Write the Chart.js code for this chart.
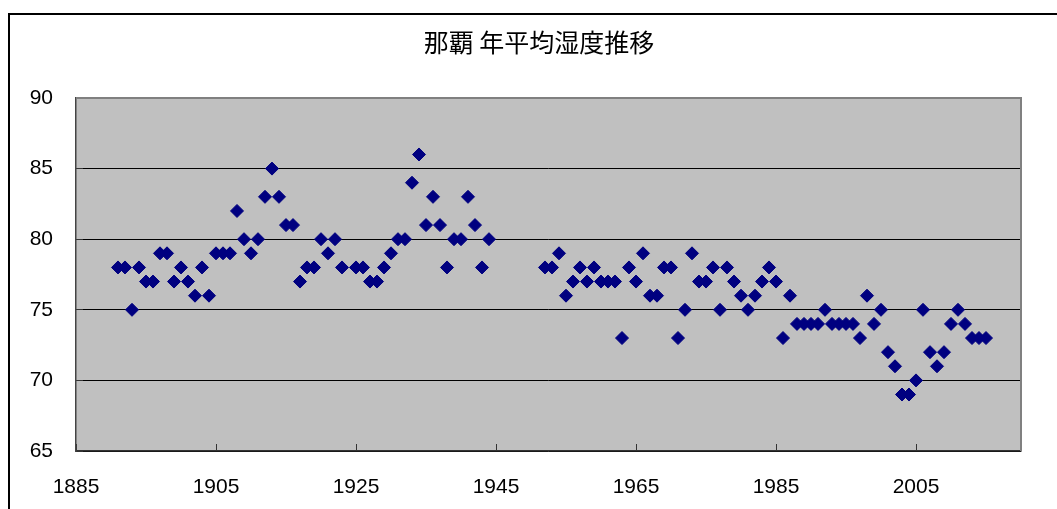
<!DOCTYPE html>
<html>
<head>
<meta charset="utf-8">
<script src="https://cdn.jsdelivr.net/npm/chart.js@4.4.1/dist/chart.umd.min.js"></script>
<style>
  body { margin: 0; background: #fff; }
  #wrap { width: 1057px; height: 509px; }
</style>
</head>
<body>
<div id="wrap"><canvas id="canvas1" width="1057" height="509"></canvas></div>
<script>
// 那覇 年平均湿度 (%)
var years1 = [1891, 1892, 1893, 1894, 1895, 1896, 1897, 1898, 1899, 1900,
              1901, 1902, 1903, 1904, 1905, 1906, 1907, 1908, 1909, 1910,
              1911, 1912, 1913, 1914, 1915, 1916, 1917, 1918, 1919, 1920,
              1921, 1922, 1923, 1925, 1926, 1927, 1928, 1929, 1930,
              1931, 1932, 1933, 1934, 1935, 1936, 1937, 1938, 1939, 1940,
              1941, 1942, 1943, 1944];
var humidity1 = [78, 78, 75, 78, 77, 77, 79, 79, 77, 78,
                 77, 76, 78, 76, 79, 79, 79, 82, 80, 79,
                 80, 83, 85, 83, 81, 81, 77, 78, 78, 80,
                 79, 80, 78, 78, 78, 77, 77, 78, 79,
                 80, 80, 84, 86, 81, 83, 81, 78, 80, 80,
                 83, 81, 78, 80];
var years2 = [1952, 1953, 1954, 1955, 1956, 1957, 1958, 1959, 1960,
              1961, 1962, 1963, 1964, 1965, 1966, 1967, 1968, 1969, 1970,
              1971, 1972, 1973, 1974, 1975, 1976, 1977, 1978, 1979, 1980,
              1981, 1982, 1983, 1984, 1985, 1986, 1987, 1988, 1989, 1990,
              1991, 1992, 1993, 1994, 1995, 1996, 1997, 1998, 1999, 2000,
              2001, 2002, 2003, 2004, 2005, 2006, 2007, 2008, 2009, 2010,
              2011, 2012, 2013, 2014, 2015];
var humidity2 = [78, 78, 79, 76, 77, 78, 77, 78, 77,
                 77, 77, 73, 78, 77, 79, 76, 76, 78, 78,
                 73, 75, 79, 77, 77, 78, 75, 78, 77, 76,
                 75, 76, 77, 78, 77, 73, 76, 74, 74, 74,
                 74, 75, 74, 74, 74, 74, 73, 76, 74, 75,
                 72, 71, 69, 69, 70, 75, 72, 71, 72, 74,
                 75, 74, 73, 73, 73];
var xTicks = [1885, 1905, 1925, 1945, 1965, 1985, 2005];
var yTicks = [65, 70, 75, 80, 85, 90];

var allYears = years1.concat(years2);
var allHumidity = humidity1.concat(humidity2);
var points = allYears.map(function (y, i) { return { x: y, y: allHumidity[i] }; });

var frame = {
    id: 'frame',
    beforeDraw: function (chart) {
        var c = chart.ctx, a = chart.chartArea;
        c.save();
        c.fillStyle = '#fff';
        c.fillRect(0, 0, chart.width, chart.height);
        c.fillStyle = '#c0c0c0';
        c.fillRect(a.left, a.top, a.right - a.left, a.bottom - a.top);
        c.restore();
    },
    afterDraw: function (chart) {
        var c = chart.ctx, a = chart.chartArea;
        c.save();
        c.strokeStyle = '#808080';
        c.lineWidth = 2;
        c.beginPath();
        c.moveTo(a.left, a.top);
        c.lineTo(a.right, a.top);
        c.lineTo(a.right, a.bottom);
        c.stroke();
        c.strokeStyle = '#000';
        c.lineWidth = 2;
        c.strokeRect(9, 14, 1200, 700);
        c.restore();
    }
};

new Chart(document.getElementById('canvas1'), {
    type: 'scatter',
    data: {
        datasets: [{
            data: points,
            pointStyle: 'rectRot',
            pointRadius: 6.5,
            pointBorderWidth: 1,
            backgroundColor: '#000080',
            borderColor: '#000080'
        }]
    },
    options: {
        responsive: false,
        animation: false,
        layout: { padding: { left: 28, right: 7, top: 0, bottom: 0 } },
        plugins: {
            legend: { display: false },
            tooltip: { enabled: false },
            title: {
                display: true,
                text: '那覇 年平均湿度推移',
                color: '#000',
                font: { family: '"Noto Sans CJK JP", sans-serif', size: 25, weight: 'normal' },
                padding: { top: 27, bottom: 41 }
            }
        },
        scales: {
            x: {
                type: 'linear',
                min: 1885,
                max: 2020,
                afterBuildTicks: function (s) { s.ticks = xTicks.map(function (v) { return { value: v }; }); },
                afterFit: function (s) { s.height = 58; },
                grid: { drawOnChartArea: false, tickLength: -7, color: '#333' },
                border: { color: '#333', width: 1.5 },
                ticks: {
                    padding: 31,
                    color: '#000',
                    maxRotation: 0,
                    autoSkip: false,
                    font: { family: '"Liberation Sans", Arial, sans-serif', size: 21 },
                    callback: function (v) { return String(v); }
                }
            },
            y: {
                min: 65,
                max: 90,
                afterBuildTicks: function (s) { s.ticks = yTicks.map(function (v) { return { value: v }; }); },
                afterFit: function (s) { s.width = 48; },
                grid: {
                    color: function (ctx) { return ctx.tick && ctx.tick.value === 90 ? 'rgba(0,0,0,0)' : '#000'; },
                    tickColor: '#333',
                    tickLength: -7,
                    lineWidth: 1
                },
                border: { color: '#444', width: 1.5 },
                ticks: {
                    padding: 30,
                    color: '#000',
                    font: { family: '"Liberation Sans", Arial, sans-serif', size: 21 },
                    callback: function (v) { return String(v); }
                }
            },
            // empty right-hand strip so the plot ends where the reference does
            pad: {
                position: 'right',
                min: 0,
                max: 1,
                afterFit: function (s) { s.width = 29; },
                grid: { display: false },
                border: { display: false },
                ticks: { display: false }
            }
        }
    },
    plugins: [frame]
});
</script>
</body>
</html>
